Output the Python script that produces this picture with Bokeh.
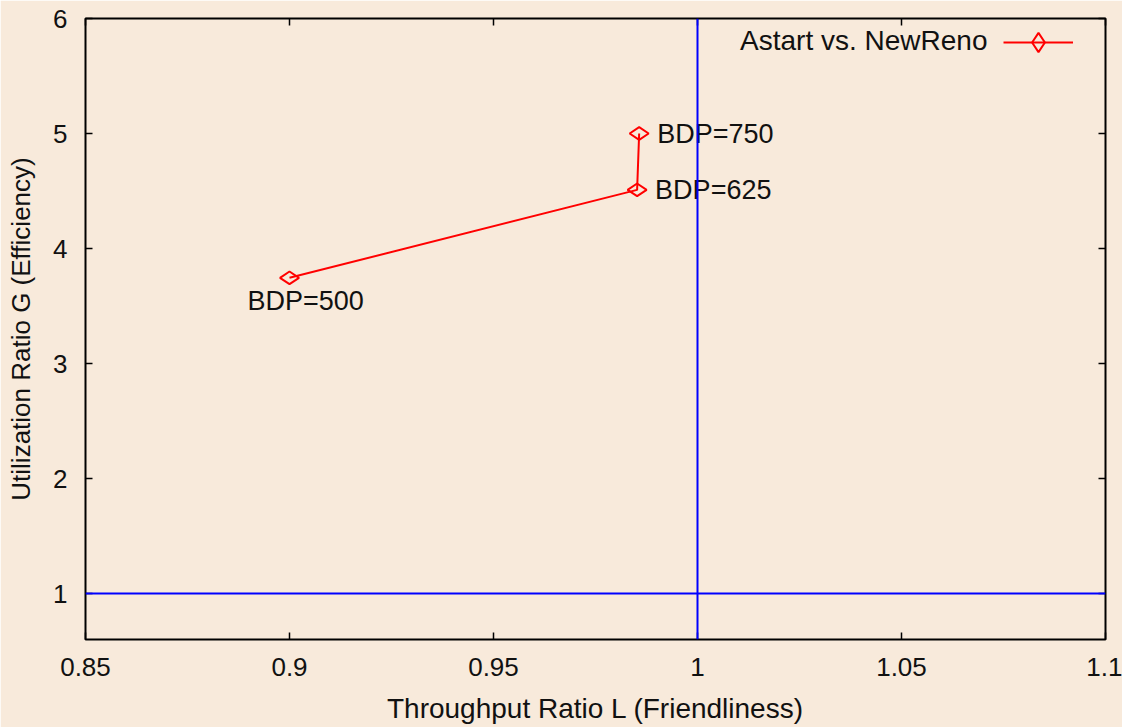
import math
from bokeh.plotting import figure
from bokeh.models import Span, FixedTicker, LinearAxis, Range1d, Legend, LegendItem, ColumnDataSource, Label
from bokeh.core.properties import value
from bokeh.embed import file_html
from bokeh.resources import INLINE

# data
throughput_ratio = [0.9, 0.9852, 0.9857]
utilization_ratio = [3.745, 4.51, 5.0]
bdp_labels = ["BDP=500", "BDP=625", "BDP=750"]
series_name = "Astart vs. NewReno"
x_ticks = [0.85, 0.9, 0.95, 1.0, 1.05, 1.1]
x_tick_labels = ["0.85", "0.9", "0.95", "1", "1.05", "1.1"]
y_ticks = [1, 2, 3, 4, 5, 6]
ref_x = 1.0
ref_y = 1.0

BG = "#F8EADB"
FONT = "Liberation Sans"
TXT = "#111111"

p = figure(width=1122, height=727, output_backend="svg", toolbar_location=None,
           x_range=Range1d(0.85, 1.1), y_range=Range1d(0.6, 6.0),
           min_border_left=85, min_border_right=17, min_border_top=18, min_border_bottom=88)
p.background_fill_color = BG
p.border_fill_color = BG
p.outline_line_color = "black"
p.outline_line_width = 2
p.xgrid.visible = False
p.ygrid.visible = False

def style_axis(ax, show_labels=True):
    ax.axis_line_color = None
    ax.major_tick_in = 7
    ax.major_tick_out = 0
    ax.major_tick_line_color = "black"
    ax.major_tick_line_width = 1.5
    ax.minor_tick_line_color = None
    ax.major_label_text_font = FONT
    ax.major_label_text_color = TXT
    if show_labels:
        ax.major_label_text_font_size = "26px"
    else:
        ax.major_label_text_font_size = "1px"
        ax.major_label_standoff = 0

xa = p.xaxis[0]
xa.ticker = FixedTicker(ticks=x_ticks)
xa.major_label_overrides = {t: s for t, s in zip(x_ticks, x_tick_labels)}
style_axis(xa)
xa.major_label_standoff = 18
xa.axis_label = "Throughput Ratio L (Friendliness)"
xa.axis_label_text_font = FONT
xa.axis_label_text_font_size = "28px"
xa.axis_label_text_font_style = "normal"
xa.axis_label_text_color = TXT
xa.axis_label_standoff = 14

ya = p.yaxis[0]
ya.ticker = FixedTicker(ticks=y_ticks)
style_axis(ya)
ya.major_label_standoff = 18
ya.axis_label = "Utilization Ratio G (Efficiency)"
ya.axis_label_text_font = FONT
ya.axis_label_text_font_size = "26px"
ya.axis_label_text_font_style = "normal"
ya.axis_label_text_color = TXT
ya.axis_label_standoff = 14

top = LinearAxis(ticker=FixedTicker(ticks=x_ticks))
top.major_label_overrides = {t: "" for t in x_ticks}
style_axis(top, show_labels=False)
p.add_layout(top, "above")
right = LinearAxis(ticker=FixedTicker(ticks=y_ticks))
right.major_label_overrides = {t: "" for t in y_ticks}
style_axis(right, show_labels=False)
p.add_layout(right, "right")

p.add_layout(Span(location=ref_x, dimension="height", line_color="blue", line_width=2))
p.add_layout(Span(location=ref_y, dimension="width", line_color="blue", line_width=2))

src = ColumnDataSource(dict(x=throughput_ratio, y=utilization_ratio, label=bdp_labels,
                            xo=[-42, 18, 18], yo=[23, 0, 0]))
ln = p.line("x", "y", source=src, line_color="red", line_width=2)
mk = p.scatter("x", "y", source=src, marker="diamond", size=19, angle=math.pi / 2,
               fill_color=None, line_color="red", line_width=2)
p.text("x", "y", text="label", source=src, x_offset="xo", y_offset="yo",
       text_font=value(FONT), text_font_size="27px", text_baseline="middle",
       text_align="left", text_color=TXT)

# legend: sample on the right of the text, as in the reference
legend = Legend(items=[LegendItem(label=" ", renderers=[ln, mk])],
                location=(918, 573))
legend.background_fill_alpha = 0
legend.border_line_color = None
legend.label_text_font = FONT
legend.label_text_font_size = "12px"
legend.glyph_width = 70
legend.glyph_height = 48
legend.padding = 0
legend.margin = 0
legend.label_standoff = 0
p.add_layout(legend)

p.add_layout(Label(x=902, y=599, x_units="screen", y_units="screen", text=series_name,
                   text_font=FONT, text_font_size="28px", text_align="right",
                   text_baseline="middle", text_color=TXT))

open("out.html", "w").write(file_html(p, INLINE))
